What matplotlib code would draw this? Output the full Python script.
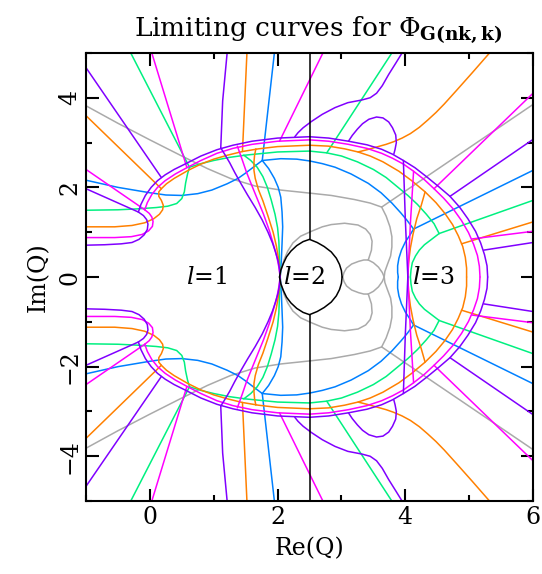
import matplotlib
matplotlib.use("Agg")
import matplotlib.pyplot as plt
from matplotlib.ticker import MultipleLocator

# --- COLOURS ---
PURPLE = "#8000ff"
MAGENTA = "#ff00ff"
ORANGE = "#ff8000"
GREEN = "#00f080"
BLUE = "#0080ff"
GRAY = "#aaaaaa"
BLACK = "#000000"

# --- UPPER HALF CURVES (lower half is the mirror, Im(Q) -> -Im(Q)) ---
purple_curves = [
    [(-0.18, 1.45), (-0.14, 1.62), (-0.07, 1.82), (0.02, 2.0), (0.12, 2.15), (0.24, 2.28), (0.38, 2.4),
     (0.55, 2.52), (0.8, 2.7), (1.05, 2.84), (1.3, 2.94), (1.6, 3.03), (2.0, 3.1), (2.5, 3.13), (2.8, 3.1),
     (3.11, 3.03), (3.4, 2.95), (3.63, 2.85), (3.8, 2.74), (3.97, 2.6), (4.15, 2.44), (4.34, 2.23),
     (4.52, 2.02), (4.7, 1.8), (4.85, 1.56), (4.98, 1.3), (5.1, 1.02), (5.18, 0.76), (5.24, 0.5),
     (5.28, 0.25), (5.29, 0.0)],
    [(-1.0, 1.97), (-0.18, 1.45)],
    [(-0.18, 1.45), (-0.1, 1.37), (-0.05, 1.28), (-0.03, 1.18), (-0.04, 1.06), (-0.09, 0.94), (-0.17, 0.84),
     (-0.28, 0.77), (-0.45, 0.74), (-0.71, 0.72), (-1.0, 0.71)],
    [(-1.0, 4.67), (0.18, 2.22)],
    [(1.21, 5.0), (1.14, 3.93), (1.11, 2.88)],
    [(1.11, 2.88), (1.18, 2.72), (1.25, 2.55), (1.33, 2.33), (1.42, 2.1), (1.53, 1.83), (1.65, 1.55),
     (1.76, 1.27), (1.85, 1.0), (1.92, 0.76), (1.97, 0.55), (2.01, 0.35), (2.03, 0.18), (2.04, 0.0)],
    [(2.27, 3.13), (2.32, 3.22), (2.4, 3.33), (2.53, 3.47), (2.7, 3.63), (2.9, 3.78), (3.1, 3.89),
     (3.32, 3.95), (3.45, 4.0), (3.55, 4.1), (3.64, 4.27), (3.74, 4.52), (3.85, 4.77), (3.95, 5.0)],
    [(3.11, 3.03), (3.17, 3.16), (3.25, 3.3), (3.33, 3.42), (3.43, 3.52), (3.55, 3.57), (3.65, 3.55),
     (3.74, 3.46), (3.8, 3.33), (3.85, 3.17), (3.86, 3.0), (3.84, 2.85), (3.82, 2.74)],
    [(3.97, 2.6), (4.0, 1.3), (4.04, 0.0)],
    [(4.7, 1.8), (6.0, 3.07)],
    [(5.23, 0.6), (6.0, 0.77)],
]

magenta_curves = [
    [(-0.08, 1.5), (-0.04, 1.66), (0.03, 1.84), (0.12, 2.0), (0.24, 2.15), (0.4, 2.3), (0.58, 2.44),
     (0.8, 2.6), (1.05, 2.76), (1.3, 2.87), (1.6, 2.96), (2.0, 3.03), (2.5, 3.06), (2.8, 3.03),
     (3.11, 2.96), (3.4, 2.87), (3.63, 2.76), (3.8, 2.65), (3.97, 2.52), (4.13, 2.36), (4.3, 2.17),
     (4.45, 1.97), (4.6, 1.76), (4.75, 1.52), (4.88, 1.26), (4.99, 0.99), (5.07, 0.73), (5.13, 0.48),
     (5.16, 0.24), (5.17, 0.0)],
    [(-1.0, 2.4), (-0.08, 1.5)],
    [(-0.08, 1.5), (-0.01, 1.42), (0.03, 1.34), (0.05, 1.24), (0.04, 1.13), (-0.02, 1.03), (-0.12, 0.95),
     (-0.29, 0.9), (-0.55, 0.88), (-1.0, 0.88)],
    [(0.03, 5.0), (0.58, 2.44)],
    [(2.71, 5.0), (2.03, 3.03)],
    [(1.37, 2.92), (1.41, 2.76), (1.45, 2.6), (1.51, 2.35), (1.58, 2.1), (1.68, 1.75), (1.78, 1.4),
     (1.87, 1.04), (1.94, 0.7), (1.99, 0.44), (2.02, 0.22), (2.04, 0.0)],
    [(4.45, 1.97), (6.0, 4.1)],
    [(4.13, 2.36), (4.08, 1.2), (4.04, 0.0)],
    [(5.05, 0.85), (6.0, 1.02)],
]

orange_curves = [
    [(0.18, 1.97), (0.26, 2.08), (0.38, 2.2), (0.6, 2.38), (0.8, 2.52), (1.0, 2.63), (1.22, 2.72),
     (1.45, 2.8), (1.7, 2.86), (2.0, 2.91), (2.5, 2.94), (2.8, 2.92), (3.05, 2.86), (3.26, 2.79),
     (3.45, 2.7), (3.65, 2.57), (3.9, 2.36), (4.1, 2.15), (4.31, 1.9), (4.48, 1.66), (4.62, 1.42),
     (4.74, 1.17), (4.83, 0.92), (4.9, 0.68), (4.94, 0.44), (4.96, 0.2), (4.96, 0.0)],
    [(-1.0, 3.6), (0.18, 1.97)],
    [(0.18, 1.97), (0.14, 1.9), (0.14, 1.8), (0.18, 1.71), (0.21, 1.6), (0.2, 1.5), (0.15, 1.4),
     (0.06, 1.3), (-0.08, 1.21), (-0.28, 1.15), (-0.55, 1.12), (-1.0, 1.12)],
    [(1.52, 5.0), (1.45, 2.8)],
    [(1.66, 2.86), (1.64, 2.72), (1.63, 2.56), (1.63, 2.38), (1.65, 2.2), (1.7, 1.95), (1.77, 1.7),
     (1.85, 1.36), (1.93, 1.0), (1.98, 0.7), (2.01, 0.45), (2.03, 0.22), (2.04, 0.0)],
    [(3.26, 2.79), (3.4, 2.84), (3.55, 2.9), (3.7, 2.96), (3.82, 3.02), (3.95, 3.1), (4.08, 3.2),
     (4.22, 3.34), (4.35, 3.5), (4.48, 3.67), (4.61, 3.86), (4.8, 4.16), (5.05, 4.56), (5.32, 5.0)],
    [(4.31, 1.9), (4.25, 1.6), (4.18, 1.3), (4.12, 0.95), (4.08, 0.65), (4.05, 0.3), (4.04, 0.0)],
    [(4.88, 0.74), (6.0, 1.23)],
]

green_curves = [
    [(0.62, 2.45), (0.8, 2.53), (1.0, 2.6), (1.25, 2.67), (1.5, 2.72), (2.0, 2.79), (2.5, 2.81),
     (2.77, 2.77), (3.0, 2.7), (3.25, 2.57), (3.5, 2.4), (3.7, 2.22), (3.87, 2.02), (4.04, 1.82),
     (4.19, 1.62), (4.33, 1.4), (4.45, 1.19), (4.53, 0.97)],
    [(-0.3, 5.0), (0.62, 2.45)],
    [(0.62, 2.45), (0.59, 2.3), (0.56, 2.1), (0.54, 1.9), (0.5, 1.75), (0.42, 1.64), (0.28, 1.58),
     (0.1, 1.55), (-0.2, 1.52), (-0.5, 1.5), (-1.0, 1.49)],
    [(3.79, 5.0), (2.77, 2.77)],
    [(1.47, 2.72), (1.58, 2.6), (1.68, 2.45), (1.77, 2.24), (1.84, 2.0), (1.9, 1.72), (1.96, 1.4),
     (2.0, 1.1), (2.02, 0.8), (2.03, 0.4), (2.04, 0.0)],
    [(4.53, 0.97), (6.0, 1.71)],
    [(4.53, 0.97), (4.42, 0.85), (4.3, 0.72), (4.22, 0.6), (4.16, 0.47), (4.11, 0.32), (4.09, 0.16),
     (4.08, 0.0)],
]

blue_curves = [
    [(1.76, 2.6), (2.05, 2.64), (2.3, 2.63), (2.5, 2.59), (2.7, 2.53), (2.9, 2.45), (3.15, 2.3),
     (3.42, 2.09), (3.62, 1.88), (3.79, 1.65), (3.93, 1.43), (4.03, 1.26), (4.13, 1.07)],
    [(-1.0, 2.16), (-0.5, 2.0), (0.0, 1.88), (0.25, 1.83), (0.5, 1.82), (0.75, 1.86), (0.97, 1.94),
     (1.21, 2.08), (1.38, 2.2), (1.5, 2.32), (1.62, 2.45), (1.76, 2.6)],
    [(1.95, 5.0), (1.76, 2.6)],
    [(1.76, 2.6), (1.86, 2.42), (1.95, 2.2), (2.01, 2.0), (2.05, 1.78), (2.07, 1.45), (2.08, 1.12),
     (2.07, 0.75), (2.06, 0.4), (2.04, 0.0)],
    [(4.13, 1.07), (6.0, 2.38)],
    [(4.13, 1.07), (4.07, 0.93), (4.0, 0.78), (3.94, 0.6), (3.9, 0.42), (3.88, 0.25), (3.88, 0.1),
     (3.89, 0.0)],
]

gray_curves = [
    [(-1.0, 3.82), (-0.5, 3.43), (0.0, 3.06), (0.5, 2.7), (0.9, 2.42), (1.26, 2.2), (1.65, 2.03),
     (2.05, 1.94), (2.45, 1.88), (2.84, 1.82), (3.2, 1.73), (3.45, 1.65), (3.63, 1.56)],
    [(3.63, 1.56), (6.0, 3.85)],
    [(3.63, 1.56), (3.7, 1.36), (3.76, 1.12), (3.79, 0.9), (3.79, 0.67), (3.77, 0.47), (3.72, 0.28),
     (3.68, 0.12), (3.67, 0.0)],
    [(2.04, 0.0), (2.06, 0.18), (2.1, 0.38), (2.16, 0.58), (2.24, 0.76), (2.36, 0.91), (2.53, 1.02),
     (2.7, 1.12), (2.84, 1.17), (3.05, 1.2), (3.26, 1.16), (3.38, 1.07), (3.45, 0.95), (3.48, 0.8),
     (3.47, 0.6), (3.42, 0.38)],
    [(3.02, 0.0), (3.04, 0.1), (3.08, 0.2), (3.16, 0.29), (3.27, 0.35), (3.35, 0.38), (3.42, 0.38)],
    [(3.42, 0.38), (3.5, 0.32), (3.58, 0.22), (3.64, 0.1), (3.67, 0.0)],
]

black_curves = [
    [(2.5, 5.0), (2.5, 0.84)],
    [(2.5, 0.84), (2.62, 0.77), (2.73, 0.68), (2.84, 0.56), (2.92, 0.42), (2.97, 0.28), (3.0, 0.14),
     (3.01, 0.0)],
    [(2.5, 0.84), (2.4, 0.79), (2.3, 0.7), (2.21, 0.58), (2.14, 0.45), (2.09, 0.3), (2.05, 0.15),
     (2.03, 0.0)],
]

region_labels = ["1", "2", "3"]
region_x = [0.88, 2.42, 4.44]

x_ticks = [0, 2, 4, 6]
y_ticks = [-4, -2, 0, 2, 4]


def draw(ax, curves, color, lw=1.1):
    for pts in curves:
        xs = [p[0] for p in pts]
        ys = [p[1] for p in pts]
        ax.plot(xs, ys, color=color, lw=lw, solid_capstyle="round", solid_joinstyle="round")
        ax.plot(xs, [-y for y in ys], color=color, lw=lw, solid_capstyle="round", solid_joinstyle="round")


plt.rcParams["font.family"] = ["DejaVu Serif"]
plt.rcParams["mathtext.fontset"] = "dejavuserif"

fig = plt.figure(figsize=(5.42, 5.74), dpi=100)
ax = fig.add_axes([0.1587, 0.127, 0.8247, 0.7808])

draw(ax, gray_curves, GRAY)
draw(ax, blue_curves, BLUE)
draw(ax, green_curves, GREEN)
draw(ax, orange_curves, ORANGE)
draw(ax, magenta_curves, MAGENTA)
draw(ax, purple_curves, PURPLE)
draw(ax, black_curves, BLACK)

for lab, xl in zip(region_labels, region_x):
    ax.text(xl, 0.0, r"$l$=" + lab, ha="center", va="center", fontsize=17)

ax.set_xlim(-1, 6)
ax.set_ylim(-5, 5)
ax.set_xticks(x_ticks)
ax.set_yticks(y_ticks)
ax.xaxis.set_minor_locator(MultipleLocator(1))
ax.yaxis.set_minor_locator(MultipleLocator(1))
ax.tick_params(which="both", direction="in", top=True, right=True, labelsize=17, width=1.5)
ax.tick_params(which="major", length=9)
ax.tick_params(which="minor", length=4.5)
for lbl in ax.get_yticklabels():
    lbl.set_rotation(90)
    lbl.set_va("center")
for sp in ax.spines.values():
    sp.set_linewidth(1.5)

ax.set_xlabel("Re(Q)", fontsize=17, labelpad=6)
ax.set_ylabel("Im(Q)", fontsize=17, labelpad=6)
ax.set_title(r"Limiting curves for $\Phi_{\mathbf{G(nk,k)}}$", fontsize=19, pad=12, x=0.52)

fig.savefig("out.png", dpi=100)
